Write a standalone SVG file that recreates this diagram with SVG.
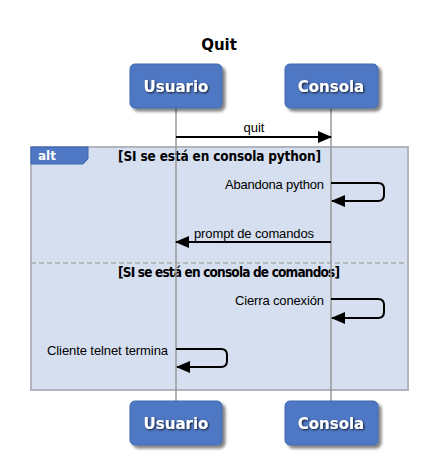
<svg xmlns="http://www.w3.org/2000/svg" width="437" height="475" viewBox="0 0 437 475">
<defs>
<filter id="sh" x="-20%" y="-20%" width="150%" height="160%">
<feGaussianBlur in="SourceAlpha" stdDeviation="1.5"/>
<feOffset dx="3" dy="3" result="b"/>
<feComponentTransfer><feFuncA type="linear" slope="0.5"/></feComponentTransfer>
<feMerge><feMergeNode/><feMergeNode in="SourceGraphic"/></feMerge>
</filter>
<filter id="tsh" x="-20%" y="-30%" width="140%" height="160%">
<feGaussianBlur in="SourceAlpha" stdDeviation="1"/>
<feOffset dx="1" dy="1"/>
<feComponentTransfer><feFuncA type="linear" slope="0.8"/></feComponentTransfer>
<feMerge><feMergeNode/><feMergeNode in="SourceGraphic"/></feMerge>
</filter>
<marker id="ah" markerWidth="14" markerHeight="12" refX="13" refY="6" orient="auto" markerUnits="userSpaceOnUse">
<path d="M0,0 L14,6 L0,12 Z" fill="#000"/>
</marker>
</defs>
<style>
.box{fill:#4f78c4;stroke:#3f66ad;stroke-width:1;filter:url(#sh)}
.bt{font-family:"DejaVu Sans",sans-serif;font-weight:bold;font-size:15px;fill:#fff;text-anchor:middle;filter:url(#tsh)}
.life{stroke:#999;stroke-width:1.5}
.msg{stroke:#000;stroke-width:2;fill:none;marker-end:url(#ah)}
.lbl{font-family:"Liberation Sans",Arial,sans-serif;font-size:13px;fill:#000}
.grd{font-family:"DejaVu Sans Condensed","DejaVu Sans",sans-serif;font-weight:600;font-size:13.5px;fill:#000}
</style>
<rect width="437" height="475" fill="#fff"/>
<text x="219" y="50" font-family="DejaVu Sans,sans-serif" font-weight="bold" font-size="15" text-anchor="middle">Quit</text>

<g id="alt">
<rect x="31" y="147" width="377" height="243" fill="#d6dff0" stroke="#b0b4bd" stroke-width="2"/>
<path d="M31,147 H88 V159 L83,164 H31 Z" fill="#4f78c4" stroke="#3f66ad" stroke-width="1"/>
<text x="38" y="160" font-family="DejaVu Sans,sans-serif" font-weight="bold" font-size="12" fill="#fff">alt</text>
<text class="grd" x="118" y="161" textLength="203">[SI se está en consola python]</text>
<line x1="31" y1="263" x2="408" y2="263" stroke="#aaa" stroke-width="1.5" stroke-dasharray="5,3"/>
<text class="grd" x="118" y="277" textLength="222">[SI se está en consola de comandos]</text>
</g>

<g id="lifelines">
<line class="life" x1="176" y1="108" x2="176" y2="401"/>
<line class="life" x1="331" y1="108" x2="331" y2="401"/>
</g>

<g id="usuario-top"><rect class="box" x="130" y="64" width="92" height="44" rx="5"/><text class="bt" x="176" y="92">Usuario</text></g>
<g id="consola-top"><rect class="box" x="285" y="64" width="93" height="44" rx="5"/><text class="bt" x="331" y="92">Consola</text></g>
<g id="usuario-bottom"><rect class="box" x="130" y="401" width="92" height="44" rx="5"/><text class="bt" x="176" y="429">Usuario</text></g>
<g id="consola-bottom"><rect class="box" x="285" y="401" width="93" height="44" rx="5"/><text class="bt" x="331" y="429">Consola</text></g>

<g id="connectors">
<line class="msg" x1="176" y1="137" x2="331" y2="137"/>
<text class="lbl" x="254" y="132" text-anchor="middle">quit</text>
<path class="msg" d="M331,183 H378 Q384,183 384,189 V195 Q384,201 378,201 H332"/>
<text class="lbl" x="225" y="189" textLength="99">Abandona python</text>
<line class="msg" x1="331" y1="242" x2="176" y2="242"/>
<text class="lbl" x="194" y="238" textLength="120">prompt de comandos</text>
<path class="msg" d="M331,299 H378 Q384,299 384,305 V312 Q384,318 378,318 H332"/>
<text class="lbl" x="235" y="305" textLength="89">Cierra conexión</text>
<path class="msg" d="M176,349 H221 Q227,349 227,355 V361 Q227,367 221,367 H177"/>
<text class="lbl" x="47" y="355" textLength="121">Cliente telnet termina</text>
</g>
</svg>
